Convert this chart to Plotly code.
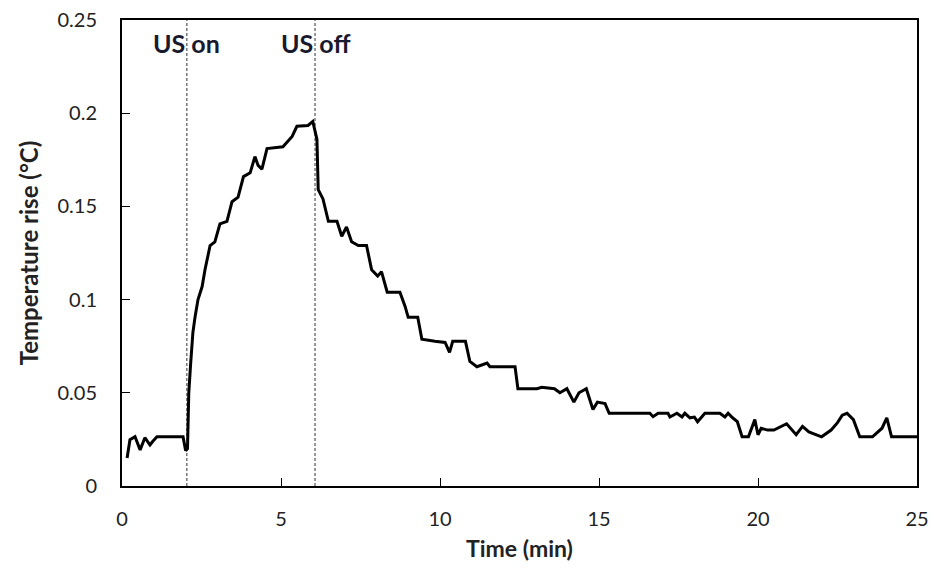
import plotly.graph_objects as go

time_min = [0.16, 0.25, 0.41, 0.57, 0.72, 0.88, 0.97, 1.1, 1.92, 2.0, 2.06, 2.1, 2.16, 2.23, 2.30, 2.39,
            2.52, 2.61, 2.77, 2.92, 3.08, 3.30, 3.46, 3.65, 3.82, 4.03, 4.18, 4.28, 4.40, 4.56, 5.06,
            5.22, 5.35, 5.50, 5.85, 6.0, 6.13, 6.17, 6.32, 6.49, 6.76, 6.91, 7.06, 7.22, 7.43, 7.69,
            7.85, 8.04, 8.16, 8.34, 8.74, 8.90, 9.0, 9.3, 9.43, 9.84, 10.16, 10.3, 10.4, 10.8, 10.94,
            11.16, 11.48, 11.57, 12.36, 12.45, 13.05, 13.2, 13.6, 13.77, 13.99, 14.21, 14.37, 14.6,
            14.81, 14.95, 15.19, 15.32, 16.6, 16.7, 16.86, 17.17, 17.23, 17.45, 17.61, 17.7, 17.86,
            18.0, 18.1, 18.33, 18.8, 18.96, 19.06, 19.2, 19.35, 19.5, 19.7, 19.9, 20.0, 20.1, 20.3,
            20.5, 20.9, 21.2, 21.4, 21.6, 22.0, 22.3, 22.5, 22.65, 22.8, 23.0, 23.2, 23.6, 23.9,
            24.05, 24.2, 25.0]
temp_rise = [0.015, 0.0248, 0.0264, 0.0194, 0.0259, 0.022, 0.024, 0.0264, 0.0264, 0.019, 0.020, 0.05,
             0.066, 0.0824, 0.091, 0.100, 0.107, 0.116, 0.129, 0.131, 0.1406, 0.142, 0.1525, 0.155,
             0.166, 0.168, 0.1767, 0.172, 0.170, 0.181, 0.182, 0.185, 0.1875, 0.193, 0.1934, 0.1956,
             0.186, 0.159, 0.154, 0.142, 0.142, 0.134, 0.139, 0.131, 0.129, 0.129, 0.116, 0.1126,
             0.115, 0.104, 0.104, 0.0965, 0.0905, 0.0905, 0.0787, 0.0776, 0.077, 0.0717, 0.0776,
             0.0776, 0.0668, 0.064, 0.066, 0.064, 0.064, 0.0522, 0.0522, 0.053, 0.0522, 0.050,
             0.0522, 0.045, 0.050, 0.0522, 0.041, 0.045, 0.0442, 0.039, 0.039, 0.0372, 0.039, 0.039,
             0.037, 0.039, 0.037, 0.039, 0.0366, 0.037, 0.0345, 0.039, 0.039, 0.037, 0.039, 0.0366,
             0.0345, 0.0264, 0.0264, 0.0356, 0.0275, 0.031, 0.030, 0.030, 0.0334, 0.0275, 0.032,
             0.029, 0.0264, 0.030, 0.034, 0.038, 0.039, 0.0356, 0.0264, 0.0264, 0.031, 0.0366,
             0.0264, 0.0264]

event_times = [2.04, 6.07]
event_labels = ["US on", "US off"]
label_y = 0.2375

x_ticks = [0, 5, 10, 15, 20, 25]
y_ticks = [0, 0.05, 0.1, 0.15, 0.2, 0.25]
y_tick_text = ["0", "0.05", "0.1", "0.15", "0.2", "0.25"]

FONT = "Lato"

fig = go.Figure()
fig.add_trace(go.Scatter(x=time_min, y=temp_rise, mode="lines",
                         line=dict(color="black", width=3), showlegend=False,
                         hoverinfo="skip"))

for t, lab in zip(event_times, event_labels):
    fig.add_shape(type="line", x0=t, x1=t, y0=0, y1=0.25, xref="x", yref="y",
                  line=dict(color="#333333", width=1, dash="3px,2px"), layer="below")
    fig.add_annotation(x=t, y=label_y, text="<b>" + lab + "</b>", showarrow=False,
                       font=dict(family=FONT, size=25, color="#1a1a2e"),
                       xanchor="center", yanchor="middle")

fig.update_layout(
    width=934, height=572,
    margin=dict(l=122, r=17, t=20, b=86),
    plot_bgcolor="white", paper_bgcolor="white",
    font=dict(family=FONT, color="#222222"),
    xaxis=dict(range=[0, 25], tickvals=x_ticks, ticks="inside", ticklen=8, tickwidth=1,
               tickcolor="black", showline=True, linecolor="black", linewidth=2, mirror=True,
               showgrid=False, zeroline=False, tickfont=dict(size=20, family=FONT),
               ticklabelstandoff=14, automargin=False,
               title=dict(text="<b>Time (min)</b>", font=dict(size=23, family=FONT), standoff=12)),
    yaxis=dict(range=[0, 0.25], tickvals=y_ticks, ticktext=y_tick_text, ticks="inside",
               ticklen=8, tickwidth=1, tickcolor="black", showline=True, linecolor="black",
               linewidth=2, mirror=True, showgrid=False, zeroline=False,
               tickfont=dict(size=20, family=FONT), ticklabelstandoff=19, automargin=False,
               title=dict(text="<b>Temperature rise (°C)</b>", font=dict(size=24, family=FONT),
                          standoff=12)),
)

fig.write_html("out.html")
